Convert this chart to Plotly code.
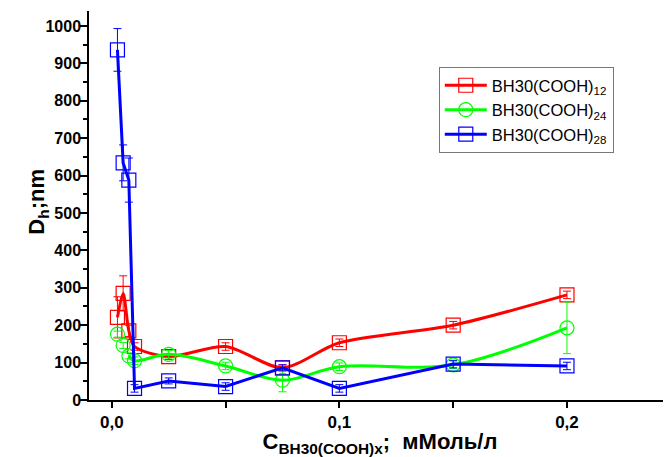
import plotly.graph_objects as go

conc = [0.0025, 0.005, 0.0075, 0.01, 0.025, 0.05, 0.075, 0.1, 0.15, 0.2]

d12 = [221, 285, 185, 143, 116, 143, 86, 153, 200, 281]
e12 = [55, 47, 15, 10, 8, 10, 8, 10, 10, 10]

d24 = [176, 146, 118, 105, 122, 91, 53, 89, 94, 193]
e24 = [8, 8, 8, 10, 10, 10, 31, 10, 10, 69]

d28 = [936, 634, 588, 31, 51, 36, 86, 31, 96, 91]
e28 = [57, 48, 59, 10, 8, 10, 8, 10, 10, 10]

names = ["BH30(COOH)<sub>12</sub>", "BH30(COOH)<sub>24</sub>", "BH30(COOH)<sub>28</sub>"]
colors = ["#FF0000", "#00FF00", "#0000FF"]

xtickvals = [0.0, 0.05, 0.1, 0.15, 0.2]
xticktext = ["0,0", "", "0,1", "", "0,2"]

# index where each series' connecting line begins (earlier points are bare markers)
line_start = [0, 2, 0]

fig = go.Figure()
series = [(d12, e12, "square-open", "spline", 0.8),
          (d24, e24, "circle-open", "spline", 1.0),
          (d28, e28, "square-open", "linear", 1.0)]
for (vals, errs, sym, shape, sm), nm, col, s in zip(series, names, colors, line_start):
    mk = dict(symbol=sym, size=14, color=col, line=dict(color=col, width=1.2))
    eb = dict(type="data", color=col, thickness=1, width=4)
    if s > 0:
        fig.add_trace(go.Scatter(
            x=conc[:s], y=vals[:s], mode="markers", showlegend=False, hoverinfo="skip",
            marker=mk, error_y=dict(eb, array=errs[:s]),
        ))
    fig.add_trace(go.Scatter(
        x=conc[s:], y=vals[s:], name=nm, mode="lines+markers",
        line=dict(color=col, width=3, shape=shape, smoothing=sm),
        marker=mk, error_y=dict(eb, array=errs[s:]),
    ))

# the page body has an 8px margin, so the figure is sized/offset to compensate
fig.update_layout(
    width=663, height=449,
    margin=dict(l=81, r=0, t=3, b=57),
    plot_bgcolor="white", paper_bgcolor="white",
    font=dict(family="Liberation Sans, Arial, sans-serif", color="black"),
    showlegend=True,
    legend=dict(x=0.601, y=0.856, xanchor="left", yanchor="top",
                bordercolor="#777777", borderwidth=1, bgcolor="white",
                itemwidth=42,
                font=dict(size=16.5, color="black")),
    annotations=[dict(
        text="D<sub>h</sub>;nm", textangle=-90,
        xref="paper", yref="paper", x=-0.0876, y=0.51,
        xanchor="center", yanchor="middle", showarrow=False,
        font=dict(size=22, weight="bold", color="black"),
    )],
)
fig.update_xaxes(
    range=[-0.01, 0.2457], showgrid=False, zeroline=False,
    showline=True, linecolor="black", linewidth=1.5,
    ticks="outside", ticklen=6, tickwidth=1.5, tickcolor="black",
    tickvals=xtickvals, ticktext=xticktext,
    tickfont=dict(size=17, weight="bold"),
    title=dict(text="C<sub>BH30(COOH)x</sub>;  мМоль/л", font=dict(size=22, weight="bold"), standoff=4),
)
fig.update_yaxes(
    range=[0, 1040], showgrid=False, zeroline=False,
    showline=True, linecolor="black", linewidth=1.5,
    ticks="outside", ticklen=7, tickwidth=1.5, tickcolor="black",
    dtick=100, tick0=0, ticklabelstandoff=-4,
    minor=dict(dtick=50, ticks="outside", ticklen=4, tickwidth=1.5, tickcolor="black"),
    tickfont=dict(size=16, weight="bold"),
)

fig.write_html("out.html")
